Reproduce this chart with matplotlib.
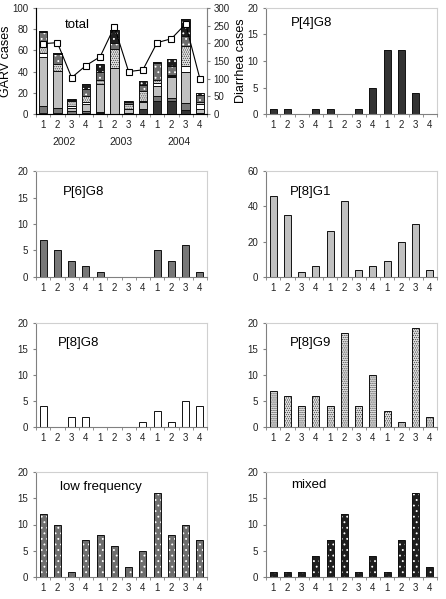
import numpy as np
import matplotlib.pyplot as plt
from matplotlib.transforms import blended_transform_factory

plt.rcParams['font.family'] = ['Liberation Sans', 'DejaVu Sans']
plt.rcParams['hatch.linewidth'] = 0.6

quarters = ['1', '2', '3', '4'] * 3
years = ['2002', '2003', '2004']

p4g8 = [1, 1, 0, 1, 1, 0, 1, 5, 12, 12, 4, 0]
p6g8 = [7, 5, 3, 2, 1, 0, 0, 0, 5, 3, 6, 1]
p8g1 = [46, 35, 3, 6, 26, 43, 4, 6, 9, 20, 30, 4]
p8g8 = [4, 0, 2, 2, 0, 0, 0, 1, 3, 1, 5, 4]
p8g9 = [7, 6, 4, 6, 4, 18, 4, 10, 3, 1, 19, 2]
lowfreq = [12, 10, 1, 7, 8, 6, 2, 5, 16, 8, 10, 7]
mixed = [1, 1, 1, 4, 7, 12, 1, 4, 1, 7, 16, 2]
diarrhea = [199, 202, 103, 137, 162, 247, 120, 125, 202, 213, 255, 100]

# (name, values, face colour, hatch, hatch colour)
types = [
    ('P[4]G8', p4g8, '#333333', None, None),
    ('P[6]G8', p6g8, '#777777', None, None),
    ('P[8]G1', p8g1, '#c0c0c0', None, None),
    ('P[8]G8', p8g8, '#ffffff', None, None),
    ('P[8]G9', p8g9, '#e2e2e2', '........', '#444444'),
    ('low frequency', lowfreq, '#6e6e6e', '...', '#ffffff'),
    ('mixed', mixed, '#1e1e1e', '...', '#ffffff'),
]

W, H = 446, 599
fig = plt.figure(figsize=(W / 100, H / 100), dpi=100)

cols = [(36, 207), (266, 437)]
rows = [(8, 114), (171, 277), (323, 427), (472, 577)]


def make_ax(col, row):
    x0, x1 = cols[col]
    top, bot = rows[row]
    return fig.add_axes([x0 / W, 1 - bot / H, (x1 - x0) / W, (bot - top) / H])


def style(ax, ymax, step):
    ax.set_xlim(-0.5, 11.5)
    ax.set_ylim(0, ymax)
    ax.set_yticks(np.arange(0, ymax + 1, step))
    ax.set_xticks(range(12))
    ax.set_xticklabels(quarters)
    ax.set_xticks(np.arange(-0.5, 12, 1), minor=True)
    ax.tick_params(axis='x', which='major', length=0, labelsize=7, pad=4,
                   labelcolor='#222222')
    ax.tick_params(axis='x', which='minor', length=2.5, color='#808080')
    ax.tick_params(axis='y', length=2.5, color='#808080', labelsize=7, pad=3,
                   labelcolor='#222222')
    ax.spines['top'].set_color('#d0d0d0')
    ax.spines['right'].set_color('#d0d0d0')
    ax.spines['left'].set_color('#808080')
    ax.spines['bottom'].set_color('#808080')
    for s in ax.spines.values():
        s.set_linewidth(0.8)


def draw_bars(ax, vals, face, hatch, hcol, width, bottom=None):
    x = np.arange(len(vals))
    ax.bar(x, vals, width, bottom=bottom, color=face, linewidth=0)
    if hatch:
        ax.bar(x, vals, width, bottom=bottom, fill=False, hatch=hatch,
               edgecolor=hcol, linewidth=0)
    ax.bar(x, vals, width, bottom=bottom, fill=False, edgecolor='#111111',
           linewidth=0.7)


# total panel
ax = make_ax(0, 0)
style(ax, 100, 20)
bottom = np.zeros(12)
for name, vals, face, hatch, hcol in types:
    draw_bars(ax, vals, face, hatch, hcol, 0.58, bottom)
    bottom = bottom + np.array(vals)
ax.set_ylabel('GARV cases', fontsize=9)
ax.yaxis.set_label_coords(-0.14, 0.5)
ax.text(0.17, 0.84, 'total', transform=ax.transAxes, fontsize=9.5, va='center')
tr = blended_transform_factory(ax.transData, ax.transAxes)
for i, yr in enumerate(years):
    ax.text(4 * i + 1.5, -0.265, yr, transform=tr, ha='center', va='center',
            fontsize=7.5, color='#222222')

ax2 = ax.twinx()
ax2.plot(np.arange(12), diarrhea, color='black', lw=0.8, marker='s', ms=5,
         mfc='white', mec='black', mew=0.8)
ax2.set_ylim(0, 300)
ax2.set_yticks(np.arange(0, 301, 50))
ax2.tick_params(axis='y', length=2.5, color='#808080', labelsize=7, pad=2,
                labelcolor='#222222')
ax2.spines['right'].set_color('#808080')
ax2.spines['top'].set_visible(False)
ax2.set_ylabel('Diarrhea cases', fontsize=9)
ax2.yaxis.set_label_coords(1.165, 0.5)

# single-type panels
panels = [
    (0, (1, 0), 20, 5, (0.146, 0.86)),
    (1, (0, 1), 20, 5, (0.158, 0.80)),
    (2, (1, 1), 60, 20, (0.14, 0.80)),
    (3, (0, 2), 20, 5, (0.13, 0.81)),
    (4, (1, 2), 20, 5, (0.14, 0.81)),
    (5, (0, 3), 20, 5, (0.14, 0.86)),
    (6, (1, 3), 20, 5, (0.146, 0.875)),
]
for idx, (c, r), ymax, step, (tx, ty) in panels:
    name, vals, face, hatch, hcol = types[idx]
    ax = make_ax(c, r)
    style(ax, ymax, step)
    draw_bars(ax, vals, face, hatch, hcol, 0.5)
    ax.text(tx, ty, name, transform=ax.transAxes, fontsize=9.5, va='center')

fig.savefig('out.png', dpi=100)
